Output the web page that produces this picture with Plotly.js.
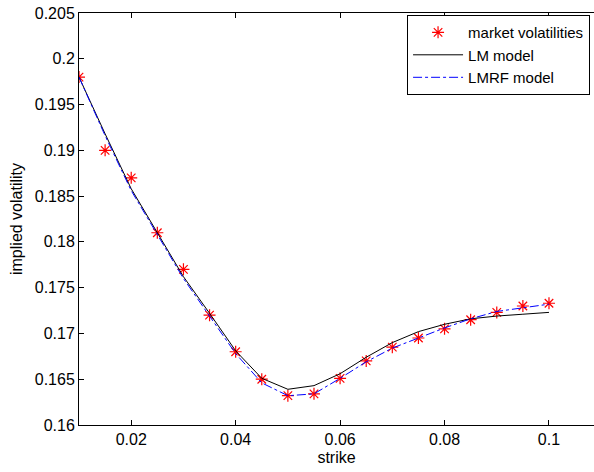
<!DOCTYPE html>
<html>
<head>
<meta charset="utf-8">
<script src="https://cdn.plot.ly/plotly-3.0.1.min.js"></script>
<style>html,body{margin:0;padding:0;background:#fff;}#chart{width:594px;height:472px;}</style>
</head>
<body>
<div id="chart"></div>
<script>
var strike = [0.01, 0.015, 0.02, 0.025, 0.03, 0.035, 0.04, 0.045, 0.05, 0.055, 0.06, 0.065, 0.07, 0.075, 0.08, 0.085, 0.09, 0.095, 0.1];
var marketVol = [0.198, 0.190, 0.187, 0.181, 0.177, 0.172, 0.168, 0.165, 0.1632, 0.1634, 0.1651, 0.167, 0.1685, 0.1695, 0.1705, 0.1715, 0.1723, 0.1730, 0.1733];
var lmModel = [0.198, 0.1918, 0.1858, 0.1810, 0.1762, 0.1722, 0.1681, 0.1651, 0.1639, 0.1643, 0.1656, 0.1674, 0.1690, 0.1702, 0.1710, 0.1716, 0.1719, 0.1721, 0.1723];
var lmrfModel = [0.198, 0.1916, 0.1856, 0.1808, 0.1760, 0.1719, 0.1678, 0.1646, 0.1632, 0.1634, 0.1651, 0.1669, 0.1684, 0.1695, 0.1706, 0.1716, 0.1724, 0.1728, 0.1732];
var xTicks = [0.02, 0.04, 0.06, 0.08, 0.1];
var xTickText = ['0.02', '0.04', '0.06', '0.08', '0.1'];
var yTicks = [0.16, 0.165, 0.17, 0.175, 0.18, 0.185, 0.19, 0.195, 0.2, 0.205];
var yTickText = ['0.16', '0.165', '0.17', '0.175', '0.18', '0.185', '0.19', '0.195', '0.2', '0.205'];

var font = {family: 'Liberation Sans, Arial, sans-serif', size: 16, color: '#000'};
var legendFont = {family: 'Liberation Sans, Arial, sans-serif', size: 15, color: '#000'};

var traces = [
  {x: strike, y: marketVol, type: 'scatter', mode: 'markers', name: 'market volatilities',
   marker: {symbol: 'asterisk-open', size: 10, color: '#ff0000', line: {color: '#ff0000', width: 1.2}}},
  {x: strike, y: lmModel, type: 'scatter', mode: 'lines', name: 'LM model',
   line: {color: '#000000', width: 1}},
  {x: strike, y: lmrfModel, type: 'scatter', mode: 'lines', name: 'LMRF model',
   line: {color: '#0000ff', width: 1, dash: 'dashdot'}}
];

var layout = {
  width: 594, height: 472,
  margin: {l: 79, r: 0, t: 13, b: 47},
  paper_bgcolor: '#fff', plot_bgcolor: '#fff',
  font: font,
  showlegend: true,
  xaxis: {
    range: [0.01, 0.10862], tickvals: xTicks, ticktext: xTickText,
    showgrid: false, zeroline: false, showline: true, linecolor: '#000', linewidth: 1,
    mirror: 'ticks', ticks: 'inside', ticklen: 5, tickcolor: '#000',
    tickfont: font,
    title: {text: 'strike', font: font, standoff: 4}
  },
  yaxis: {
    range: [0.16, 0.205], tickvals: yTicks, ticktext: yTickText,
    showgrid: false, zeroline: false, showline: true, linecolor: '#000', linewidth: 1,
    mirror: false, ticks: 'inside', ticklen: 5, tickcolor: '#000',
    tickfont: font,
    title: {text: 'implied volatility', font: font, standoff: 8}
  },
  legend: {
    x: 0.637, xanchor: 'left', y: 0.995, yanchor: 'top',
    bgcolor: '#fff', bordercolor: '#000', borderwidth: 1,
    font: legendFont, itemwidth: 50, tracegroupgap: 0
  }
};

Plotly.newPlot('chart', traces, layout, {displayModeBar: false, staticPlot: true});
</script>
</body>
</html>
